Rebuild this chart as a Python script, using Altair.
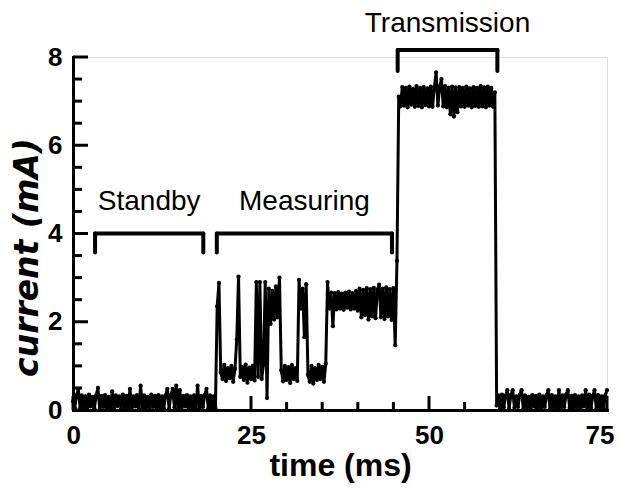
import altair as alt
import pandas as pd

STEP = 0.25  # sampling interval (ms)

# segment start times (ms)
standby_start = 0.0
measuring_start = 20.25
transmission_start = 45.75
after_start = 59.5

standby_vals = [
    0.20, 0.05, 0.34, 0.47, 0.03, 0.33, 0.06, 0.31, 0.02, 0.35, 0.08, 0.30,
    0.04, 0.33, 0.50, 0.02, 0.32, 0.07, 0.34, 0.03, 0.30, 0.05, 0.42, 0.04,
    0.33, 0.09, 0.31, 0.02, 0.35, 0.06, 0.32, 0.03, 0.48, 0.05, 0.31, 0.08,
    0.34, 0.02, 0.55, 0.04, 0.33, 0.06, 0.30, 0.03, 0.35, 0.07, 0.32, 0.02,
    0.34, 0.05, 0.31, 0.04, 0.33, 0.48, 0.03, 0.35, 0.48, 0.06, 0.55, 0.02,
    0.45, 0.05, 0.32, 0.08, 0.34, 0.03, 0.31, 0.06, 0.33, 0.02, 0.55, 0.04,
    0.32, 0.07, 0.34, 0.48, 0.03, 0.33, 0.05, 0.31, 0.04,
]

measuring_vals = [
    2.35, 2.88, 0.85, 0.70, 1.02, 0.66, 0.95, 0.72, 1.00, 0.64, 0.93, 1.60,
    3.02, 0.75, 0.98, 0.68, 1.03, 0.62, 0.96, 0.70, 1.00, 0.67, 2.90, 0.75,
    2.90, 0.70, 1.02, 2.90, 0.27, 2.75, 1.95, 2.70, 2.05, 2.80, 2.10, 3.00,
    0.90, 0.65, 1.00, 0.68, 0.97, 0.61, 1.02, 0.70, 0.95, 0.66, 2.95, 2.30,
    2.75, 1.65, 2.85, 0.80, 0.64, 1.00, 0.60, 0.95, 0.68, 1.02, 0.70, 0.98,
    0.64, 1.05, 2.90, 2.30, 2.66, 1.90, 2.65, 2.28, 2.67, 2.30, 2.64, 2.27,
    2.66, 2.32, 2.68, 2.28, 2.65, 2.30, 2.70, 2.25, 2.75, 2.10, 2.72, 2.15,
    2.76, 2.05, 2.74, 2.12, 2.77, 2.08, 2.73, 2.84, 2.10, 2.75, 2.06, 2.78,
    2.12, 2.74, 2.04, 2.76, 1.47, 3.38,
]

transmission_vals = [
    7.10, 6.88, 7.32, 6.90, 7.30, 6.86, 7.33, 6.92, 7.28, 6.87, 7.34, 6.89,
    7.30, 6.86, 7.32, 6.91, 7.29, 6.88, 7.33, 6.87, 7.31, 7.65, 6.90, 7.32,
    7.50, 6.88, 7.34, 6.86, 7.30, 6.70, 7.33, 6.65, 7.31, 6.75, 7.32, 6.88,
    7.30, 6.87, 7.33, 6.90, 7.29, 6.86, 7.32, 6.89, 7.30, 6.87, 7.34, 6.88,
    7.31, 6.86, 7.33, 6.90, 7.30, 6.87, 7.20,
]

after_vals = [
    0.10, 0.33, 0.04, 0.35, 0.06, 0.32, 0.45, 0.03, 0.34, 0.45, 0.05, 0.31,
    0.07, 0.35, 0.45, 0.02, 0.33, 0.06, 0.30, 0.04, 0.34, 0.08, 0.32, 0.03,
    0.35, 0.05, 0.31, 0.07, 0.33, 0.45, 0.02, 0.34, 0.06, 0.31, 0.04, 0.45,
    0.03, 0.33, 0.07, 0.35, 0.45, 0.05, 0.32, 0.02, 0.34, 0.06, 0.31, 0.04,
    0.33, 0.08, 0.45, 0.03, 0.35, 0.05, 0.32, 0.45, 0.02, 0.34, 0.06, 0.31,
    0.04, 0.33, 0.45,
]

# phase brackets: start, end (ms), bar level, leg bottom (mA)
bracket_start = [3.1, 20.2, 45.6]
bracket_end = [18.3, 44.8, 59.6]
bracket_top = [4.0, 4.0, 8.16]
bracket_bottom = [3.57, 3.57, 7.68]

label_text = ["Standby", "Measuring", "Transmission"]
label_t = [10.7, 32.5, 52.6]
label_y = [4.72, 4.72, 8.74]

x_major = [0, 25, 50, 75]
x_minor = [5, 10, 15, 20, 30, 35, 40, 45, 55, 60, 65, 70]
y_major = [0, 2, 4, 6, 8]
y_minor = [0.5, 1, 1.5, 2.5, 3, 3.5, 4.5, 5, 5.5, 6.5, 7, 7.5]

rows = []
for start, vals in [(standby_start, standby_vals), (measuring_start, measuring_vals),
                    (transmission_start, transmission_vals), (after_start, after_vals)]:
    for k, v in enumerate(vals):
        rows.append({"t": start + k * STEP, "i": v})
trace = pd.DataFrame(rows)

W, H = 534, 353
FONT = "Liberation Sans"
xs = alt.Scale(domain=[0, 75], nice=False, zero=False)
ys = alt.Scale(domain=[0, 8], nice=False, zero=False)

x_axis = alt.Axis(values=x_major, ticks=False, grid=False, labelFontSize=26,
                  labelFontWeight="bold", labelFont=FONT, labelColor="black",
                  labelPadding=12, labelFlush=True, labelFlushOffset=7,
                  domainColor="black", domainWidth=3,
                  domainCap="square", title="time (ms)", titleFont=FONT,
                  titleFontSize=32, titleFontWeight="bold", titleColor="black",
                  titlePadding=2, format="d")
y_axis = alt.Axis(values=y_major, ticks=False, grid=False, labelFontSize=26,
                  labelFontWeight="bold", labelFont=FONT, labelColor="black",
                  labelPadding=11, labelFlush=False, domainColor="black", domainWidth=3,
                  domainCap="square", title="current (mA)", titleFont="DejaVu Sans",
                  titleFontSize=33, titleFontWeight="bold", titleFontStyle="italic",
                  titleColor="black", titlePadding=3, titleY=200, format="d")


def X(field):
    return alt.X(field, type="quantitative", scale=xs, axis=x_axis, title="time (ms)")


def Y(field):
    return alt.Y(field, type="quantitative", scale=ys, axis=y_axis, title="current (mA)")


line = alt.Chart(trace).mark_line(color="black", strokeWidth=3).encode(
    x=X("t"), y=Y("i"), order="t:Q",
)
dots = alt.Chart(trace).mark_circle(color="black", size=18, opacity=1).encode(
    x=X("t"), y=Y("i"),
)

xt_major = alt.Chart(pd.DataFrame({"t": x_major})).mark_rule(color="black", strokeWidth=3).encode(
    x=X("t"), y=alt.value(H), y2=alt.value(H - 14))
xt_minor = alt.Chart(pd.DataFrame({"t": x_minor})).mark_rule(color="black", strokeWidth=3).encode(
    x=X("t"), y=alt.value(H), y2=alt.value(H - 8))
yt_major = alt.Chart(pd.DataFrame({"i": y_major})).mark_tick(
    color="black", orient="horizontal", size=15, thickness=3, opacity=1).encode(
    y=Y("i"), x=alt.value(7.5))
yt_minor = alt.Chart(pd.DataFrame({"i": y_minor})).mark_tick(
    color="black", orient="horizontal", size=9, thickness=3, opacity=1).encode(
    y=Y("i"), x=alt.value(4.5))

br = pd.DataFrame({"a": bracket_start, "b": bracket_end, "top": bracket_top, "bot": bracket_bottom})
br_bar = alt.Chart(br).mark_rule(color="black", strokeWidth=4, strokeCap="round").encode(
    x=X("a"), x2="b:Q", y=Y("top"))
br_left = alt.Chart(br).mark_rule(color="black", strokeWidth=4, strokeCap="round").encode(
    x=X("a"), y=Y("top"), y2="bot:Q")
br_right = alt.Chart(br).mark_rule(color="black", strokeWidth=4, strokeCap="round").encode(
    x=X("b"), y=Y("top"), y2="bot:Q")

labels = alt.Chart(pd.DataFrame({"txt": label_text, "t": label_t, "i": label_y})).mark_text(
    font=FONT, fontSize=28, color="black", align="center", baseline="middle").encode(
    x=X("t"), y=Y("i"), text="txt:N")

chart = alt.layer(line, dots, xt_major, xt_minor, yt_major, yt_minor,
                  br_bar, br_left, br_right, labels).properties(
    width=W, height=H,
    autosize=alt.AutoSizeParams(type="none"),
    padding={"left": 65, "top": 49, "right": 7, "bottom": 85},
).configure_view(strokeWidth=0).configure(background="white")

chart.save("out.html", embed_options={"renderer": "svg", "actions": False})
